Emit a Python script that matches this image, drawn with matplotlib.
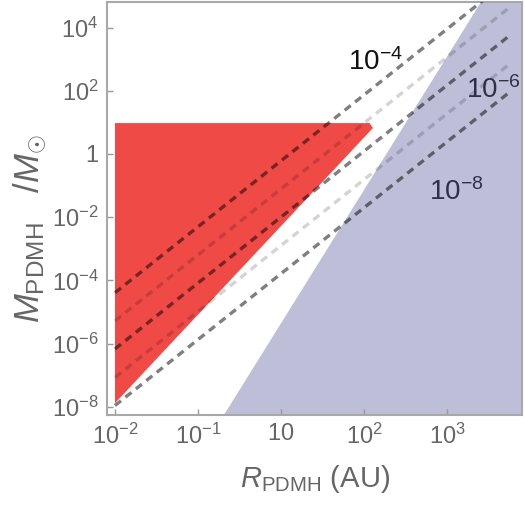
import matplotlib
matplotlib.use("Agg")
import matplotlib.pyplot as plt
import numpy as np

# axis ranges (R in AU, M in solar masses)
x_limits = [10 ** -2.096, 10 ** 2.904]
y_limits = [10 ** -8.26, 10 ** 4.81]

x_ticks = [1e-2, 1e-1, 1, 1e1, 1e2]
x_tick_labels = [r"$10^{-2}$", r"$10^{-1}$", r"$10$", r"$10^{2}$", r"$10^{3}$"]
y_ticks = [1e-8, 1e-6, 1e-4, 1e-2, 1, 1e2, 1e4]
y_tick_labels = [r"$10^{-8}$", r"$10^{-6}$", r"$10^{-4}$", r"$10^{-2}$", r"$1$",
                 r"$10^{2}$", r"$10^{4}$"]

# excluded (red) region corners
red_R = [1e-2, 11.7, 12.8, 1e-2]
red_M = [9.5, 9.5, 6.6, 1.3e-8]

# allowed-boundary (blue) region edge: two points on its slanted side
blue_R = [0.2056, 257.0]
blue_M = [5.5e-9, 6.46e4]

# dashed reference lines: M at R = 1e-2, common log slope, end radius
line_M0 = [10 ** -4.39, 10 ** -5.28, 10 ** -6.17, 10 ** -7.07, 10 ** -7.96]
line_alpha = [0.5, 0.17, 0.5, 0.17, 0.5]
line_slope = 2.086
line_R = [1e-2, 543.0]

plt.rcParams["font.family"] = ["Liberation Sans", "DejaVu Sans"]
plt.rcParams["mathtext.fontset"] = "custom"
plt.rcParams["mathtext.rm"] = "Liberation Sans"
plt.rcParams["mathtext.it"] = "Liberation Sans:italic"
plt.rcParams["mathtext.bf"] = "Liberation Sans:bold"

fig = plt.figure(figsize=(5.25, 5.05), dpi=100)
ax = fig.add_axes([107 / 525, 1 - 415 / 505, 415 / 525, 413 / 505])
ax.set_xscale("log")
ax.set_yscale("log")
ax.set_xlim(x_limits)
ax.set_ylim(y_limits)

# blue region, closed to the right and top/bottom of the axes
ax.fill([blue_R[0], blue_R[1], x_limits[1] * 2, x_limits[1] * 2],
        [blue_M[0], blue_M[1], blue_M[1], blue_M[0]],
        color="#bebed8", lw=0, zorder=1)

ax.fill(red_R, red_M, color="#ef4a46", lw=0, zorder=2)

for m0, a in zip(line_M0, line_alpha):
    r = np.array(line_R)
    m = m0 * (r / line_R[0]) ** line_slope
    ax.plot(r, m, color="black", alpha=a, lw=2.4, dashes=(2.3, 1.7),
            solid_capstyle="butt", dash_capstyle="butt", zorder=3)

ax.text(6.41, 457, r"$10^{-4}$", fontsize=20, color="#111111", zorder=4)
ax.text(169, 59, r"$10^{-6}$", fontsize=20, color="#2f2f45", zorder=4)
ax.text(60.7, 0.035, r"$10^{-8}$", fontsize=20, color="#2f2f45", zorder=4)

ax.set_xticks(x_ticks)
ax.set_xticklabels(x_tick_labels)
ax.set_yticks(y_ticks)
ax.set_yticklabels(y_tick_labels)
ax.minorticks_off()
ax.tick_params(direction="in", length=4, width=1, color="#999999",
               labelcolor="#666666", labelsize=17, pad=6)

for s in ax.spines.values():
    s.set_color("#a8a8a8")
    s.set_linewidth(1.5)

ax.set_xlabel(r"$R_{\mathrm{PDMH}}$ (AU)", fontsize=21, color="#666666")
ax.set_ylabel(r"$M_{\mathrm{PDMH}}\ \ \ /M_{\odot}$", fontsize=25, color="#666666")
ax.xaxis.set_label_coords(0.501, -0.116)
ax.yaxis.set_label_coords(-0.14, 0.45)

fig.savefig("out.png", dpi=100)
